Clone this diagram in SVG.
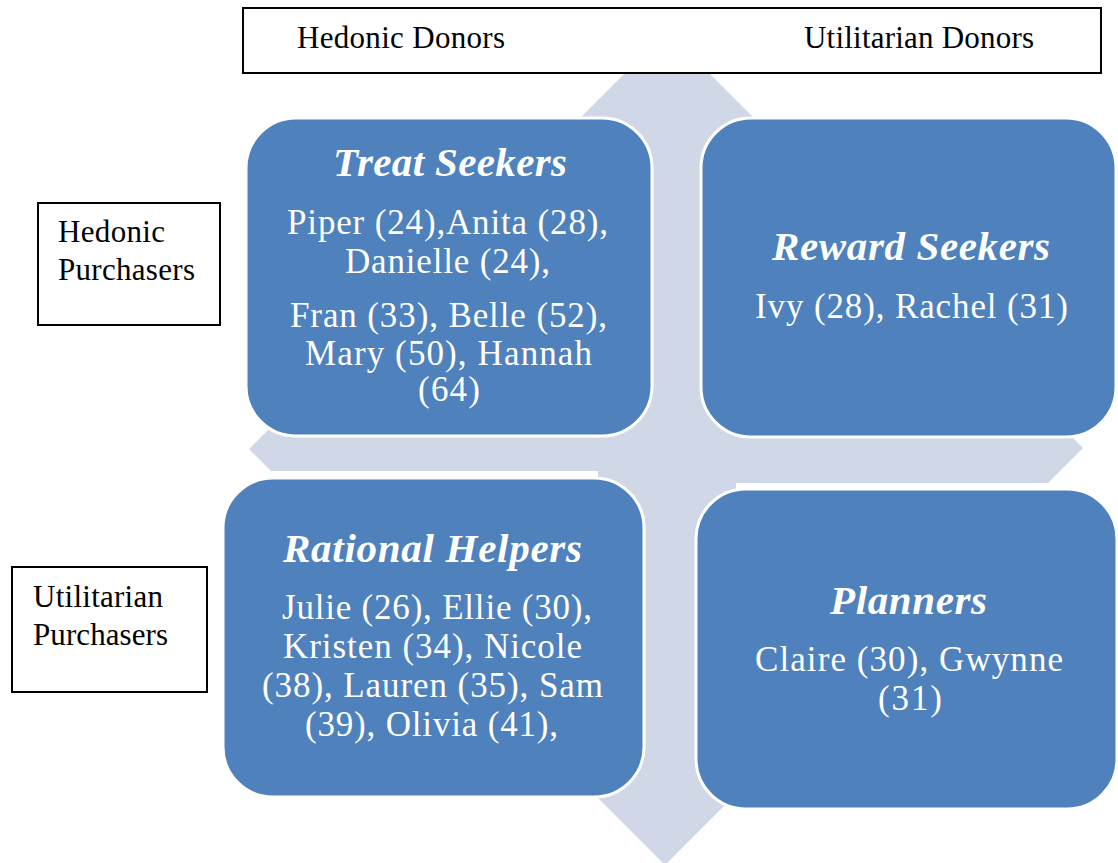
<svg xmlns="http://www.w3.org/2000/svg" width="1118" height="863" viewBox="0 0 1118 863">
<style>
.quad{fill:#4f81bd;stroke:#ffffff;stroke-width:3}
.lbl{fill:#ffffff;stroke:#000000;stroke-width:2}
.t{font-family:"Liberation Serif","Times New Roman",serif;fill:#000000;font-size:31px}
.title{font-family:"Liberation Serif","Times New Roman",serif;fill:#ffffff;font-size:41px;font-weight:bold;font-style:italic}
.body{font-family:"Liberation Serif","Times New Roman",serif;fill:#ffffff;font-size:35px}
</style>
<rect width="1118" height="863" fill="#ffffff"/>
<g id="cross-arrow">
<polygon fill="#d0d8e8" points="667,31 796,160 720,160 720,395 1030,395 1083,448 1048,483 736,483 736,760 770,760 665,865 560,760 598,760 598,471 271,471 249,449 303,395 600,395 600,160 538,160"/>
</g>
<g id="connectors"></g>
<g id="header">
<rect class="lbl" x="243" y="8" width="858" height="65"/>
<text class="t" x="297" y="48" textLength="208">Hedonic Donors</text>
<text class="t" x="804" y="48" textLength="230">Utilitarian Donors</text>
</g>
<g id="label-hedonic-purchasers">
<rect class="lbl" x="38" y="203" width="182" height="122"/>
<text class="t" x="58" y="242" textLength="107">Hedonic</text>
<text class="t" x="58" y="280" textLength="137">Purchasers</text>
</g>
<g id="label-utilitarian-purchasers">
<rect class="lbl" x="12" y="567" width="195" height="125"/>
<text class="t" x="33" y="607" textLength="130">Utilitarian</text>
<text class="t" x="33" y="645" textLength="135">Purchasers</text>
</g>
<g id="treat-seekers">
<rect class="quad" x="246" y="118" width="406" height="318" rx="50" ry="50"/>
<text class="title" x="333" y="176" textLength="234">Treat Seekers</text>
<text class="body" x="287" y="234" textLength="321">Piper (24),Anita (28),</text>
<text class="body" x="345" y="273" textLength="205">Danielle (24),</text>
<text class="body" x="290" y="327" textLength="317">Fran (33), Belle (52),</text>
<text class="body" x="305" y="365" textLength="287">Mary (50), Hannah</text>
<text class="body" x="418" y="401" textLength="62">(64)</text>
</g>
<g id="reward-seekers">
<rect class="quad" x="701" y="118" width="415" height="319" rx="50" ry="50"/>
<text class="title" x="772" y="260" textLength="278">Reward Seekers</text>
<text class="body" x="755" y="318" textLength="313">Ivy (28), Rachel (31)</text>
</g>
<g id="rational-helpers">
<rect class="quad" x="223" y="478" width="421" height="319" rx="50" ry="50"/>
<text class="title" x="283" y="562" textLength="299">Rational Helpers</text>
<text class="body" x="282" y="619" textLength="310">Julie (26), Ellie (30),</text>
<text class="body" x="283" y="658" textLength="299">Kristen (34), Nicole</text>
<text class="body" x="262" y="697" textLength="341">(38), Lauren (35), Sam</text>
<text class="body" x="305" y="736" textLength="253">(39), Olivia (41),</text>
</g>
<g id="planners">
<rect class="quad" x="696" y="489" width="421" height="320" rx="50" ry="50"/>
<text class="title" x="830" y="614" textLength="157">Planners</text>
<text class="body" x="755" y="671" textLength="308">Claire (30), Gwynne</text>
<text class="body" x="878" y="710" textLength="64">(31)</text>
</g>
</svg>
